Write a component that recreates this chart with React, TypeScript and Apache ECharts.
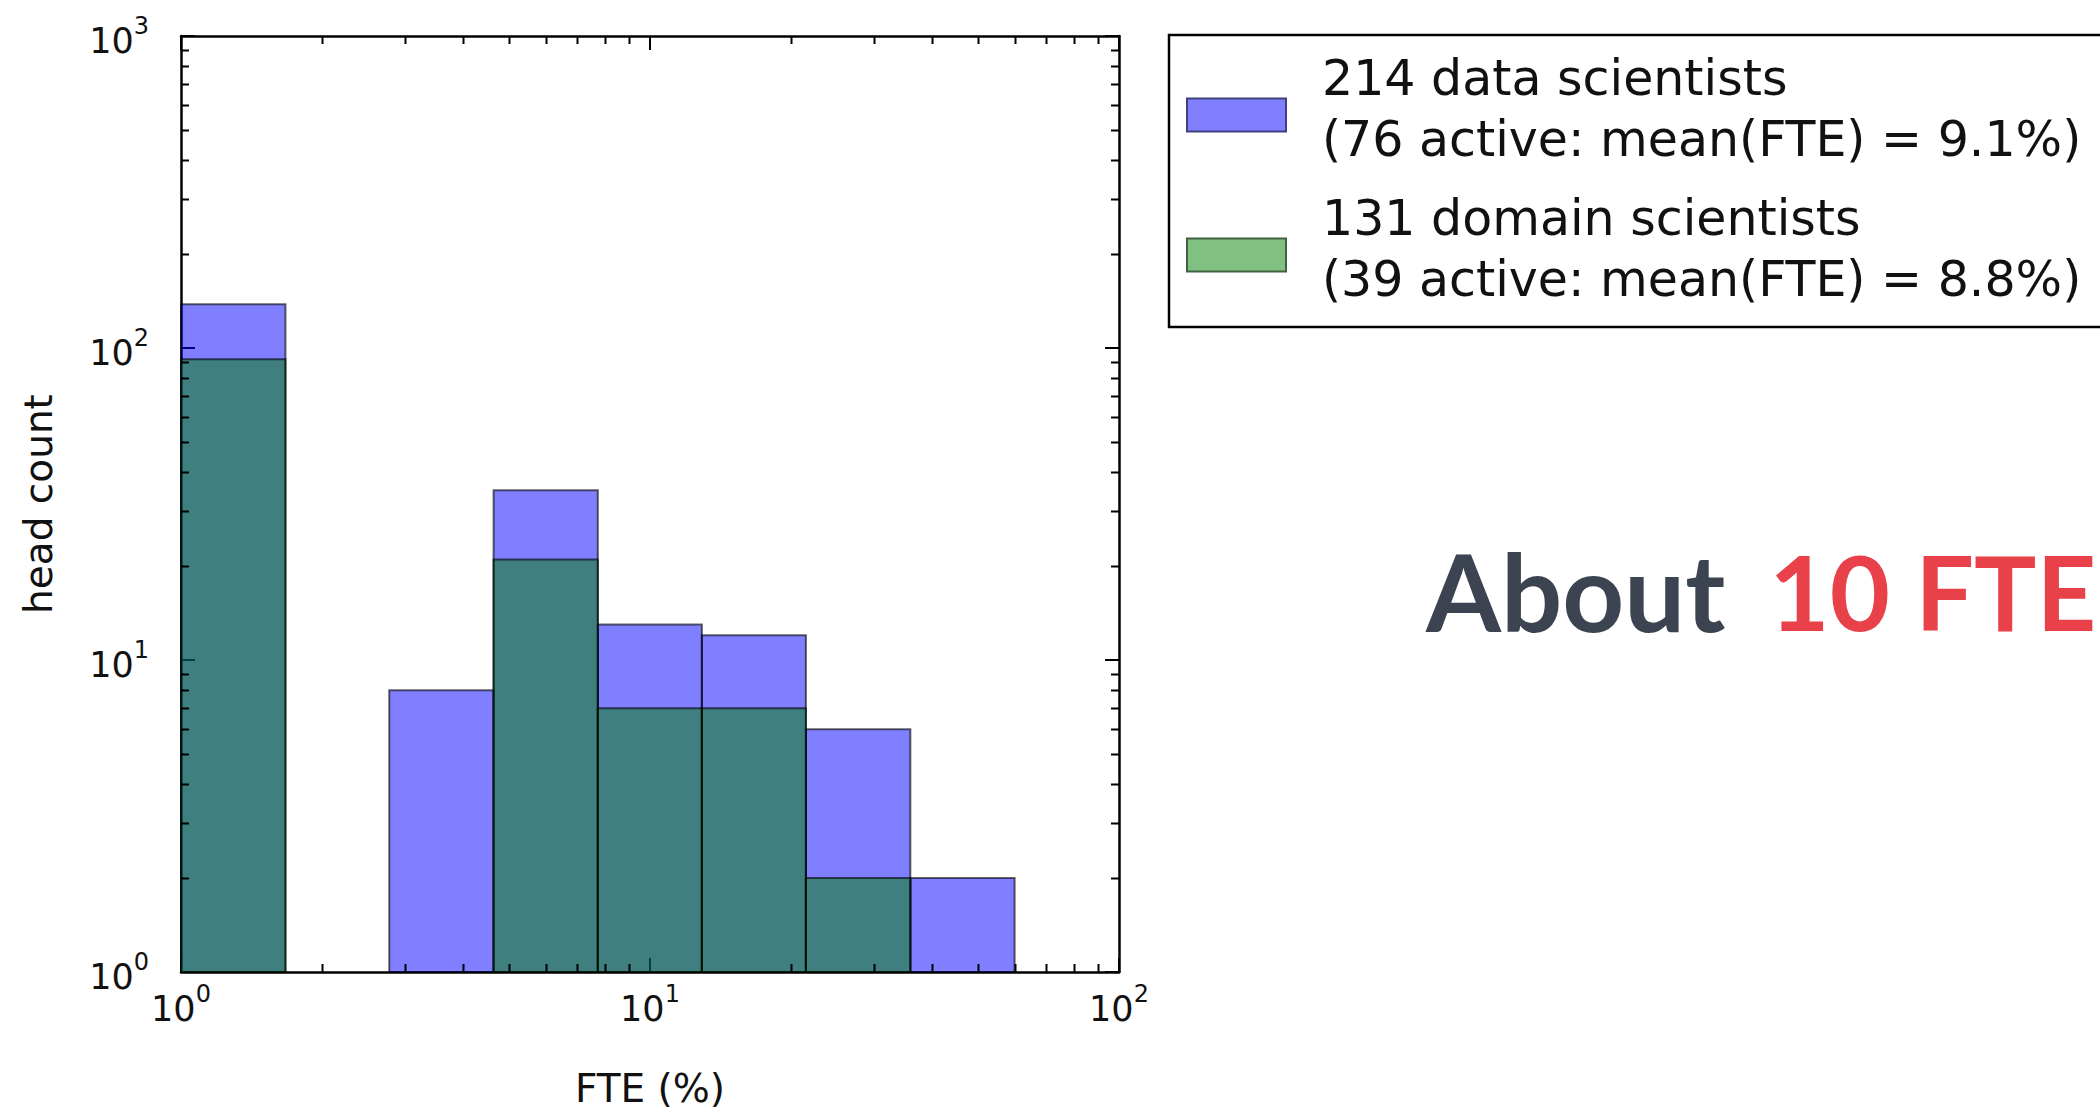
import React, { useEffect, useRef } from "react";
import * as echarts from "echarts";

// Histogram bin edges (FTE %, log-spaced)
const binEdges = [1, 1.67, 2.78, 4.64, 7.74, 12.9, 21.5, 35.9, 59.9, 100];
// Head counts per bin
const dataScientistCounts = [138, 0, 8, 35, 13, 12, 6, 2, 0];
const domainScientistCounts = [92, 0, 0, 21, 7, 7, 2, 0, 0];
const seriesNames = [
  "214 data scientists\n(76 active: mean(FTE) = 9.1%)",
  "131 domain scientists\n(39 active: mean(FTE) = 8.8%)",
];
// Axis ranges and minor tick values
const xRange = [1, 100];
const yRange = [1, 1000];
const xMinorTicks = [2, 3, 4, 5, 6, 7, 8, 9, 20, 30, 40, 50, 60, 70, 80, 90];
const yMinorTicks = [
  2, 3, 4, 5, 6, 7, 8, 9, 20, 30, 40, 50, 60, 70, 80, 90, 200, 300, 400, 500, 600, 700, 800, 900,
];

const BLUE = "rgba(0,0,255,0.5)";
const GREEN = "rgba(0,128,0,0.5)";
const EDGE = "rgba(0,0,0,0.6)";
const FONT = "DejaVu Sans";

function toBars(counts: number[]) {
  const out: number[][] = [];
  counts.forEach((c, i) => {
    if (c > 0) out.push([binEdges[i], binEdges[i + 1], c]);
  });
  return out;
}

function barRenderer(fill: string) {
  return (params: any, api: any) => {
    const x0 = api.value(0);
    const x1 = api.value(1);
    const c = api.value(2);
    const tl = api.coord([x0, c]);
    const br = api.coord([x1, yRange[0]]);
    return {
      type: "rect",
      shape: { x: tl[0], y: tl[1], width: br[0] - tl[0], height: br[1] - tl[1] },
      style: { fill, stroke: EDGE, lineWidth: 2 },
    };
  };
}

const MINOR_LEN = 8;

function yMinorRenderer(params: any, api: any) {
  const cs = params.coordSys;
  const p = api.coord([api.value(0), api.value(1)]);
  const y = Math.round(p[1]) + 0.5;
  return {
    type: "group",
    children: [
      { type: "line", shape: { x1: cs.x, y1: y, x2: cs.x + MINOR_LEN, y2: y }, style: { stroke: "#000", lineWidth: 2 } },
      {
        type: "line",
        shape: { x1: cs.x + cs.width, y1: y, x2: cs.x + cs.width - MINOR_LEN, y2: y },
        style: { stroke: "#000", lineWidth: 2 },
      },
    ],
  };
}

function xMinorRenderer(params: any, api: any) {
  const cs = params.coordSys;
  const p = api.coord([api.value(0), api.value(1)]);
  const x = Math.round(p[0]) + 0.5;
  return {
    type: "group",
    children: [
      {
        type: "line",
        shape: { x1: x, y1: cs.y + cs.height, x2: x, y2: cs.y + cs.height - MINOR_LEN },
        style: { stroke: "#000", lineWidth: 2 },
      },
      { type: "line", shape: { x1: x, y1: cs.y, x2: x, y2: cs.y + MINOR_LEN }, style: { stroke: "#000", lineWidth: 2 } },
    ],
  };
}

const powLabel = (v: number) => `{b|10}{s|${Math.round(Math.log10(v))}}`;
const labelRich = {
  b: { fontSize: 35, fontFamily: FONT, color: "#111", verticalAlign: "bottom", lineHeight: 44 },
  s: { fontSize: 24, fontFamily: FONT, color: "#111", verticalAlign: "top", lineHeight: 24 },
};

const axisLine = { show: true, onZero: false, lineStyle: { color: "#000", width: 2.5 } };
const majorTick = { show: true, inside: true, length: 14, lineStyle: { color: "#000", width: 2 } };

const legendFormatter = (name: string) =>
  name
    .split("\n")
    .map((line) => `{t|${line}}`)
    .join("\n") + "\n{p| }";

export default function App() {
  const ref = useRef<HTMLDivElement>(null);

  useEffect(() => {
    if (!ref.current) return;
    const chart = echarts.init(ref.current, undefined, { renderer: "svg" });
    const option: any = {
      animation: false,
      backgroundColor: "#fff",
      grid: { left: 181, top: 36, width: 938, height: 940, containLabel: false },
      xAxis: [
        {
          type: "log",
          logBase: 10,
          min: xRange[0],
          max: xRange[1],
          position: "bottom",
          name: "FTE (%)",
          nameLocation: "middle",
          nameGap: 97,
          nameTextStyle: { fontSize: 39, fontFamily: FONT, color: "#111" },
          axisLine,
          axisTick: majorTick,
          splitLine: { show: false },
          axisLabel: { margin: 10, formatter: powLabel, rich: labelRich },
        },
        {
          type: "log",
          logBase: 10,
          min: xRange[0],
          max: xRange[1],
          position: "top",
          axisLine,
          axisTick: majorTick,
          splitLine: { show: false },
          axisLabel: { show: false },
        },
      ],
      yAxis: [
        {
          type: "log",
          logBase: 10,
          min: yRange[0],
          max: yRange[1],
          position: "left",
          name: "head count",
          nameLocation: "middle",
          nameGap: 123,
          nameTextStyle: { fontSize: 39, fontFamily: FONT, color: "#111" },
          axisLine,
          axisTick: majorTick,
          splitLine: { show: false },
          axisLabel: { margin: 32, formatter: powLabel, rich: labelRich },
        },
        {
          type: "log",
          logBase: 10,
          min: yRange[0],
          max: yRange[1],
          position: "right",
          axisLine,
          axisTick: majorTick,
          splitLine: { show: false },
          axisLabel: { show: false },
        },
      ],
      legend: {
        orient: "vertical",
        left: 1186,
        top: 54,
        padding: 0,
        itemGap: 15,
        itemWidth: 99,
        itemHeight: 33,
        selectedMode: false,
        formatter: legendFormatter,
        textStyle: {
          fontSize: 49,
          fontFamily: FONT,
          color: "#111",
          rich: {
            t: { fontSize: 49, fontFamily: FONT, color: "#111", lineHeight: 61, padding: [0, 0, 0, 31] },
            p: { fontSize: 6, lineHeight: 12 },
          },
        },
        data: [
          { name: seriesNames[0], icon: "rect", itemStyle: { color: "#8080ff", borderColor: "#40407f", borderWidth: 2 } },
          { name: seriesNames[1], icon: "rect", itemStyle: { color: "#80c080", borderColor: "#406040", borderWidth: 2 } },
        ],
      },
      graphic: [
        {
          type: "rect",
          shape: { x: 1169, y: 35, width: 960, height: 292 },
          style: { fill: "none", stroke: "#000", lineWidth: 2.5 },
          silent: true,
        },
        {
          type: "text",
          x: 1426,
          y: 590,
          style: {
            text: "{a|About}{b|10 FTE}",
            verticalAlign: "middle",
            rich: {
              a: { fontSize: 108, fontFamily: "Lato", fontWeight: 700, fill: "#3d4451" },
              b: { fontSize: 104, fontFamily: "Lato", fontWeight: 700, fill: "#e8414a", padding: [0, 0, 0, 44] },
            },
          },
        },
      ],
      series: [
        {
          type: "custom",
          name: seriesNames[0],
          renderItem: barRenderer(BLUE),
          itemStyle: { color: "#8080ff" },
          encode: { x: [0, 1], y: 2 },
          data: toBars(dataScientistCounts),
          z: 2,
        },
        {
          type: "custom",
          name: seriesNames[1],
          renderItem: barRenderer(GREEN),
          itemStyle: { color: "#80c080" },
          encode: { x: [0, 1], y: 2 },
          data: toBars(domainScientistCounts),
          z: 3,
        },
        {
          type: "custom",
          name: "yMinor",
          renderItem: yMinorRenderer,
          encode: { x: 0, y: 1 },
          data: yMinorTicks.map((v) => [xRange[0], v]),
          z: 5,
          silent: true,
        },
        {
          type: "custom",
          name: "xMinor",
          renderItem: xMinorRenderer,
          encode: { x: 0, y: 1 },
          data: xMinorTicks.map((v) => [v, yRange[0]]),
          z: 5,
          silent: true,
        },
      ],
    };
    chart.setOption(option);
    return () => chart.dispose();
  }, []);

  return (
    <div
      ref={ref}
      style={{ position: "absolute", left: 0, top: 0, width: 2100, height: 1113, background: "#fff" }}
    />
  );
}
